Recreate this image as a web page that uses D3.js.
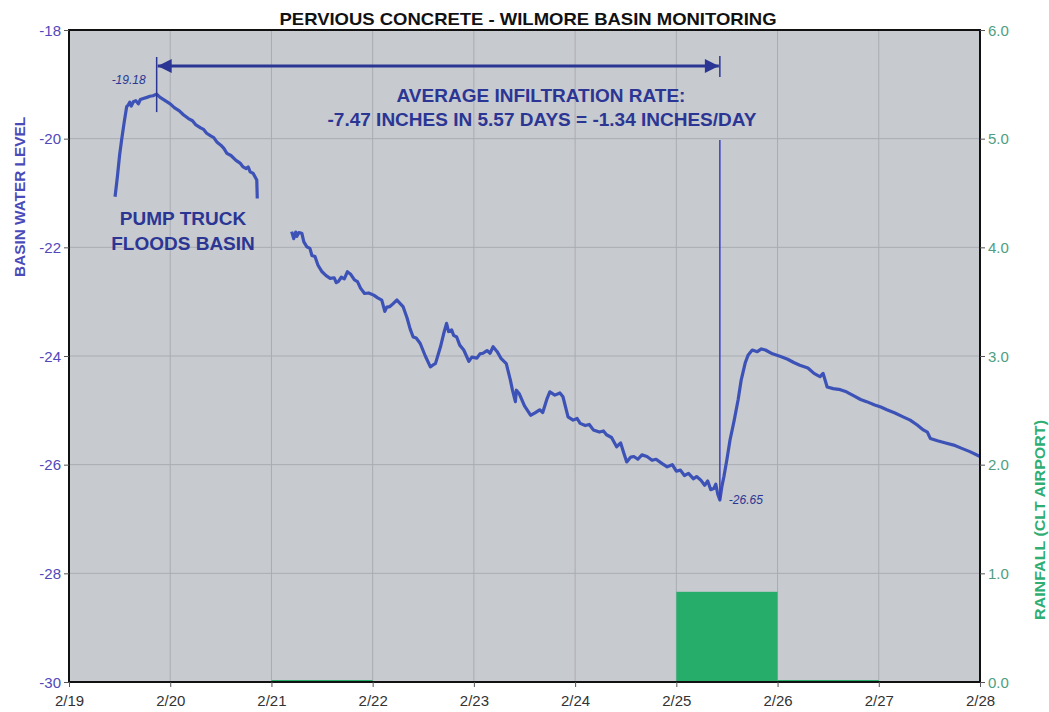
<!DOCTYPE html>
<html>
<head>
<meta charset="utf-8">
<script src="https://cdn.jsdelivr.net/npm/d3@7"></script>
<style>
  body { margin: 0; background: #fff; }
  svg text { font-family: "Liberation Sans", Arial, sans-serif; }
</style>
</head>
<body>
<svg id="chart" width="1049" height="712"></svg>
<script>
// x values are days after 2/19 00:00
var dayLabels = ['2/19', '2/20', '2/21', '2/22', '2/23', '2/24', '2/25', '2/26', '2/27', '2/28'];
var leftTicks = [-30, -28, -26, -24, -22, -20, -18];
var rightTicks = [0, 1, 2, 3, 4, 5, 6];

// first run (pump truck fill)
var levelRun1 = [
  [0.455, -21.07], [0.478, -20.70], [0.500, -20.30], [0.520, -20.02], [0.545, -19.70],
  [0.570, -19.41], [0.585, -19.38], [0.600, -19.33], [0.615, -19.40], [0.636, -19.32],
  [0.660, -19.30], [0.685, -19.36], [0.705, -19.28], [0.734, -19.26], [0.77, -19.24],
  [0.80, -19.22], [0.83, -19.21], [0.866, -19.18], [0.90, -19.24], [0.95, -19.30],
  [1.00, -19.36], [1.04, -19.43], [1.09, -19.49], [1.13, -19.56], [1.18, -19.63],
  [1.22, -19.67], [1.25, -19.74], [1.30, -19.80], [1.33, -19.83], [1.36, -19.90],
  [1.40, -19.95], [1.43, -19.98], [1.46, -20.06], [1.50, -20.12], [1.53, -20.18],
  [1.56, -20.27], [1.60, -20.31], [1.65, -20.40], [1.69, -20.45], [1.72, -20.52],
  [1.75, -20.55], [1.77, -20.52], [1.79, -20.61], [1.82, -20.64], [1.855, -20.76],
  [1.86, -21.10]
];

// second run
var levelRun2 = [
  [2.20, -21.71], [2.22, -21.84], [2.24, -21.72], [2.25, -21.80], [2.27, -21.73],
  [2.30, -21.74], [2.32, -21.90], [2.35, -21.99], [2.38, -22.02], [2.40, -22.15],
  [2.43, -22.17], [2.46, -22.33], [2.50, -22.45], [2.54, -22.52], [2.58, -22.57],
  [2.62, -22.56], [2.64, -22.65], [2.66, -22.63], [2.69, -22.55], [2.72, -22.58],
  [2.75, -22.45], [2.78, -22.49], [2.82, -22.60], [2.85, -22.63], [2.88, -22.75],
  [2.92, -22.85], [2.96, -22.84], [3.01, -22.88], [3.05, -22.93], [3.09, -22.97],
  [3.12, -23.18], [3.14, -23.10], [3.17, -23.09], [3.20, -23.04], [3.24, -22.97],
  [3.27, -23.03], [3.30, -23.09], [3.34, -23.30], [3.37, -23.50], [3.40, -23.65],
  [3.43, -23.67], [3.47, -23.77], [3.52, -24.00], [3.57, -24.20], [3.60, -24.16],
  [3.62, -24.14], [3.67, -23.83], [3.70, -23.60], [3.73, -23.40], [3.75, -23.55],
  [3.78, -23.52], [3.80, -23.62], [3.83, -23.65], [3.86, -23.80], [3.90, -23.89],
  [3.95, -24.10], [3.98, -24.02], [4.03, -24.04], [4.06, -23.96], [4.09, -23.95],
  [4.13, -23.90], [4.16, -23.95], [4.19, -23.83], [4.23, -23.92], [4.27, -24.05],
  [4.32, -24.14], [4.36, -24.44], [4.38, -24.62], [4.41, -24.84], [4.42, -24.63],
  [4.45, -24.70], [4.50, -24.92], [4.56, -25.09], [4.60, -25.05], [4.65, -24.99],
  [4.68, -25.04], [4.72, -24.80], [4.75, -24.66], [4.80, -24.72], [4.85, -24.68],
  [4.88, -24.75], [4.93, -25.12], [4.98, -25.18], [5.02, -25.15], [5.05, -25.24],
  [5.10, -25.28], [5.14, -25.26], [5.18, -25.36], [5.24, -25.40], [5.28, -25.38],
  [5.31, -25.45], [5.36, -25.50], [5.41, -25.67], [5.45, -25.60], [5.48, -25.78],
  [5.51, -25.95], [5.55, -25.86], [5.58, -25.85], [5.62, -25.90], [5.66, -25.82],
  [5.71, -25.85], [5.76, -25.92], [5.80, -25.90], [5.86, -25.98], [5.91, -26.04],
  [5.96, -26.00], [6.00, -26.12], [6.04, -26.10], [6.08, -26.20], [6.12, -26.16],
  [6.17, -26.26], [6.20, -26.22], [6.24, -26.28], [6.28, -26.38], [6.31, -26.30],
  [6.34, -26.46], [6.37, -26.44], [6.39, -26.36], [6.41, -26.55], [6.43, -26.65],
  [6.45, -26.40], [6.47, -26.22], [6.50, -25.90], [6.53, -25.55], [6.57, -25.20],
  [6.61, -24.81], [6.64, -24.45], [6.68, -24.13], [6.71, -23.98], [6.75, -23.89],
  [6.80, -23.92], [6.84, -23.87], [6.88, -23.89], [6.95, -23.96], [7.03, -24.01],
  [7.10, -24.06], [7.16, -24.12], [7.22, -24.17], [7.30, -24.22], [7.36, -24.32],
  [7.40, -24.36], [7.42, -24.38], [7.45, -24.32], [7.49, -24.57], [7.55, -24.60],
  [7.62, -24.62], [7.68, -24.66], [7.75, -24.73], [7.82, -24.80], [7.88, -24.84],
  [7.96, -24.90], [8.02, -24.94], [8.08, -24.99], [8.16, -25.05], [8.24, -25.12],
  [8.31, -25.18], [8.38, -25.27], [8.44, -25.36], [8.48, -25.40], [8.51, -25.52],
  [8.58, -25.56], [8.66, -25.60], [8.74, -25.64], [8.82, -25.70], [8.90, -25.76],
  [9.00, -25.85]
];

// daily rainfall, inches (day index, value)
var rainDays = [2, 6, 7];
var rainValues = [0, 0.83, 0];

var peakLevel = -19.18, peakDay = 0.866;
var lowLevel = -26.65, lowDay = 6.43;

var svg = d3.select('#chart');
var m = { left: 69, right: 980, top: 30, bottom: 682 };

var x = d3.scaleLinear().domain([0, 9]).range([m.left, m.right]);
var y = d3.scaleLinear().domain([-30, -18]).range([m.bottom, m.top]);
var y2 = d3.scaleLinear().domain([0, 6]).range([m.bottom, m.top]);

var navy = '#2b3694';
var lineBlue = '#3d52b6';
var green = '#27ad6a';

// plot background
svg.append('rect')
  .attr('x', m.left).attr('y', m.top)
  .attr('width', m.right - m.left).attr('height', m.bottom - m.top)
  .attr('fill', '#c7cacf');

// grid
svg.append('g').selectAll('line.v')
  .data(d3.range(1, 9)).enter().append('line')
  .attr('x1', d => x(d)).attr('x2', d => x(d))
  .attr('y1', m.top).attr('y2', m.bottom)
  .attr('stroke', '#a9acb2').attr('stroke-width', 1);
svg.append('g').selectAll('line.h')
  .data(leftTicks.slice(1, -1)).enter().append('line')
  .attr('x1', m.left).attr('x2', m.right)
  .attr('y1', d => y(d)).attr('y2', d => y(d))
  .attr('stroke', '#a9acb2').attr('stroke-width', 1);

// rainfall bars
svg.append('g').selectAll('rect')
  .data(rainDays.map((d, i) => ({ day: d, v: rainValues[i] })))
  .enter().append('rect')
  .attr('x', d => x(d.day))
  .attr('width', d => x(d.day + 1) - x(d.day))
  .attr('y', d => Math.min(y2(d.v), m.bottom - 2))
  .attr('height', d => Math.max(2, m.bottom - y2(d.v)))
  .attr('fill', green);

// level lines
var line = d3.line().x(d => x(d[0])).y(d => y(d[1]));
[levelRun1, levelRun2].forEach(function (run) {
  svg.append('path').datum(run)
    .attr('d', line)
    .attr('fill', 'none')
    .attr('stroke', lineBlue)
    .attr('stroke-width', 3.2)
    .attr('stroke-linejoin', 'round');
});

// frame
svg.append('rect')
  .attr('x', m.left).attr('y', m.top)
  .attr('width', m.right - m.left).attr('height', m.bottom - m.top)
  .attr('fill', 'none').attr('stroke', '#111').attr('stroke-width', 2);

// axes
var xAxis = svg.append('g').attr('transform', `translate(0,${m.bottom})`)
  .call(d3.axisBottom(x).tickValues(d3.range(0, 10)).tickFormat(d => dayLabels[d]).tickSize(5));
xAxis.select('.domain').remove();
xAxis.selectAll('text').attr('fill', '#333').attr('font-size', 15).attr('dy', '1.05em');
xAxis.selectAll('line').attr('stroke', '#555');

var yAxis = svg.append('g').attr('transform', `translate(${m.left},0)`)
  .call(d3.axisLeft(y).tickValues(leftTicks).tickFormat(d => String(d)).tickSize(5));
yAxis.select('.domain').remove();
yAxis.selectAll('text').attr('fill', '#5048bb').attr('font-size', 15).attr('dy', '0.35em');
yAxis.selectAll('line').attr('stroke', '#555');

var y2Axis = svg.append('g').attr('transform', `translate(${m.right},0)`)
  .call(d3.axisRight(y2).tickValues(rightTicks).tickFormat(d3.format('.1f')).tickSize(5));
y2Axis.select('.domain').remove();
y2Axis.selectAll('text').attr('fill', '#4e9e82').attr('font-size', 15).attr('dy', '0.35em');
y2Axis.selectAll('line').attr('stroke', '#555');

// titles
svg.append('text').attr('x', 528).attr('y', 25)
  .attr('text-anchor', 'middle').attr('font-size', 17).attr('font-weight', 'bold')
  .attr('textLength', 497).attr('lengthAdjust', 'spacingAndGlyphs')
  .attr('fill', '#111').text('PERVIOUS CONCRETE - WILMORE BASIN MONITORING');

svg.append('text')
  .attr('transform', 'translate(25,197) rotate(-90)')
  .attr('text-anchor', 'middle').attr('font-size', 14).attr('font-weight', 'bold')
  .attr('textLength', 160).attr('lengthAdjust', 'spacingAndGlyphs')
  .attr('fill', '#4a4ab8').text('BASIN WATER LEVEL');

svg.append('text')
  .attr('transform', 'translate(1045,520) rotate(-90)')
  .attr('text-anchor', 'middle').attr('font-size', 14).attr('font-weight', 'bold')
  .attr('textLength', 200).attr('lengthAdjust', 'spacingAndGlyphs')
  .attr('fill', '#2fae74').text('RAINFALL (CLT AIRPORT)');

// infiltration arrow
var arrowY = 66;
var ann = svg.append('g');
svg.append('defs').html(
  '<marker id="ah" viewBox="0 0 10 10" refX="10" refY="5" markerWidth="22" markerHeight="14" markerUnits="userSpaceOnUse" orient="auto-start-reverse">' +
  '<path d="M0,0 L10,5 L0,10 z" fill="' + navy + '"/></marker>');
ann.append('line')
  .attr('x1', x(peakDay) + 1).attr('x2', x(lowDay) - 1)
  .attr('y1', arrowY).attr('y2', arrowY)
  .attr('stroke', navy).attr('stroke-width', 3)
  .attr('marker-start', 'url(#ah)').attr('marker-end', 'url(#ah)');
ann.append('line')
  .attr('x1', x(peakDay)).attr('x2', x(peakDay))
  .attr('y1', 57).attr('y2', y(peakLevel) + 18)
  .attr('stroke', navy).attr('stroke-width', 1.5);
ann.append('line')
  .attr('x1', x(lowDay)).attr('x2', x(lowDay))
  .attr('y1', 56).attr('y2', 77)
  .attr('stroke', navy).attr('stroke-width', 1.5);
ann.append('line')
  .attr('x1', x(lowDay)).attr('x2', x(lowDay))
  .attr('y1', 140).attr('y2', y(lowLevel))
  .attr('stroke', '#3b3fc0').attr('stroke-width', 1.5);

ann.append('text').attr('x', 541).attr('y', 102)
  .attr('text-anchor', 'middle').attr('font-size', 19).attr('font-weight', 'bold')
  .attr('fill', navy).text('AVERAGE INFILTRATION RATE:');
ann.append('text').attr('x', 542).attr('y', 126)
  .attr('text-anchor', 'middle').attr('font-size', 19).attr('font-weight', 'bold')
  .attr('fill', navy).text('-7.47 INCHES IN 5.57 DAYS = -1.34 INCHES/DAY');

ann.append('text').attr('x', 183).attr('y', 225)
  .attr('text-anchor', 'middle').attr('font-size', 19).attr('font-weight', 'bold')
  .attr('fill', navy).text('PUMP TRUCK');
ann.append('text').attr('x', 183).attr('y', 250)
  .attr('text-anchor', 'middle').attr('font-size', 19).attr('font-weight', 'bold')
  .attr('fill', navy).text('FLOODS BASIN');

ann.append('text').attr('x', x(peakDay) - 11).attr('y', 84)
  .attr('text-anchor', 'end').attr('font-size', 12).attr('font-style', 'italic')
  .attr('fill', navy).text(peakLevel.toFixed(2));
ann.append('text').attr('x', x(lowDay) + 9).attr('y', 504)
  .attr('text-anchor', 'start').attr('font-size', 12).attr('font-style', 'italic')
  .attr('fill', navy).text(lowLevel.toFixed(2));
</script>
</body>
</html>
